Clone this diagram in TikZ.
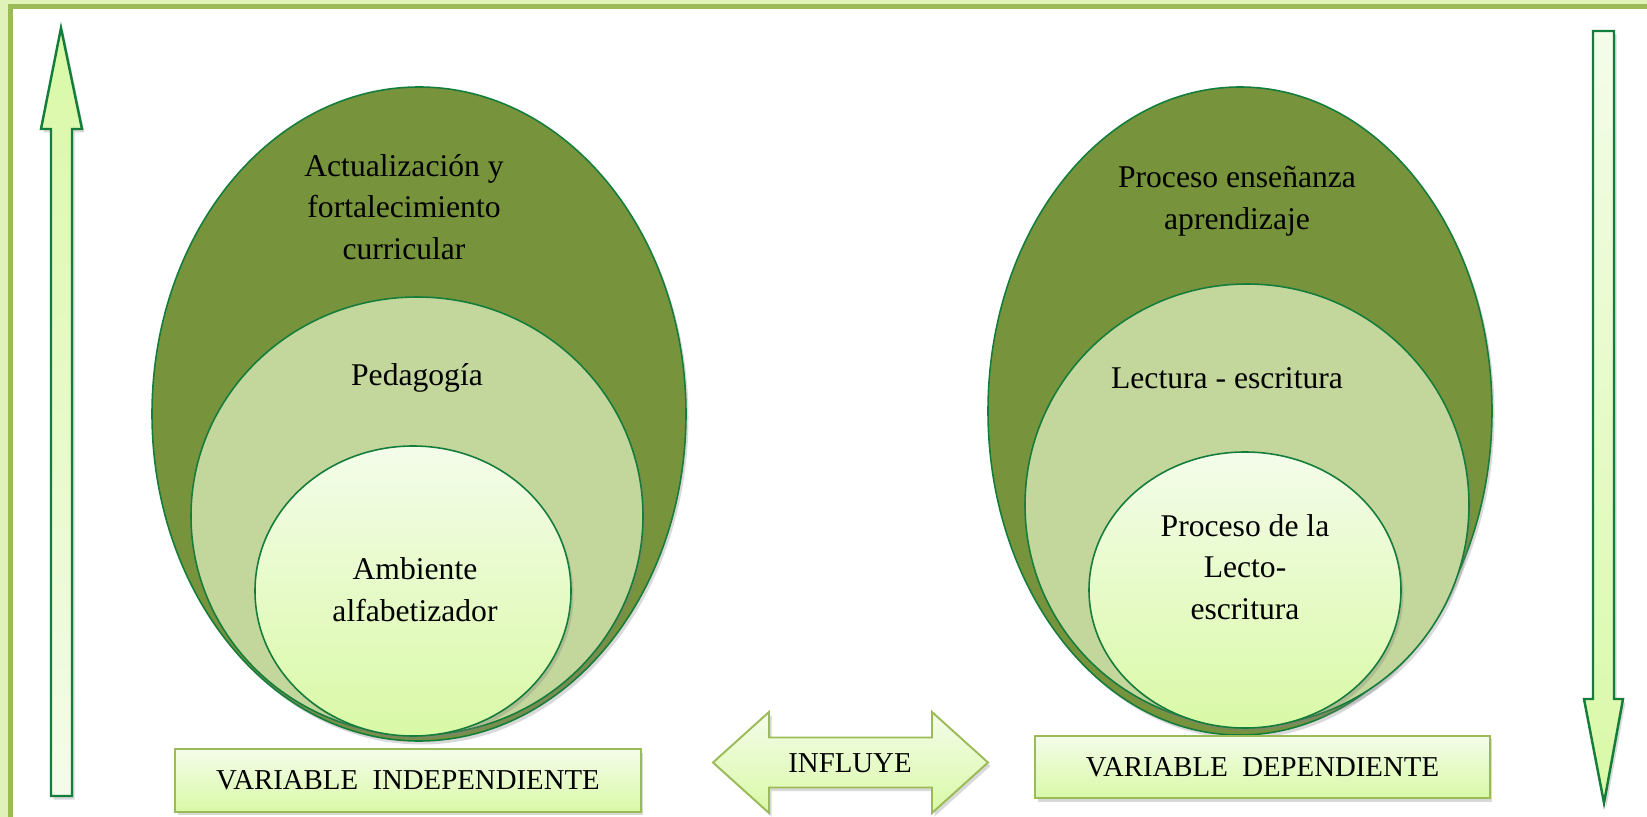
\documentclass[tikz,border=0pt]{standalone}
\usepackage{fontspec}
\setmainfont{Liberation Serif}
\usetikzlibrary{shadows}

\definecolor{olivedark}{RGB}{119,147,60}
\definecolor{olivelight}{RGB}{195,214,155}
\definecolor{palegreen}{RGB}{244,252,234}
\definecolor{limegreen}{RGB}{217,249,166}
\definecolor{rimgreen}{RGB}{20,125,60}
\definecolor{boxrim}{RGB}{155,187,89}
\definecolor{bandgreen}{RGB}{224,242,184}

\tikzset{
    rim/.style={draw=rimgreen, line width=0.9pt},
    softshadow/.style={drop shadow={opacity=.3, shadow xshift=.05cm, shadow yshift=-.07cm}},
    glowfill/.style={top color=palegreen, bottom color=limegreen},
    ovaltext/.style={font={\fontsize{18}{23.8}\selectfont}, align=center, inner sep=0pt},
    varbox/.style={draw=boxrim, line width=1.1pt, glowfill, softshadow, minimum height=1.25cm,
        inner sep=0pt, font={\fontsize{16.4}{20}\selectfont}},
}

\begin{document}
\begin{tikzpicture}[x=0.02cm, y=-0.02cm]
        \useasboundingbox (0,0) rectangle (1647,817);
        % page border
        \fill[bandgreen] (0,0) rectangle (1647,9) (0,0) rectangle (13,817);
        \draw[boxrim, line width=0.1cm] (10.5,817) -- (10.5,6.5) -- (1647,6.5);

        % side arrows
        \draw[rim, line width=1.4pt, top color=limegreen, bottom color=palegreen, softshadow]
            (61,28) -- (82,129) -- (72,129) -- (72,796) -- (51,796) -- (51,129) -- (41,129) -- cycle;
        \draw[rim, line width=1.4pt, glowfill, softshadow]
            (1604,803) -- (1623,699) -- (1614,699) -- (1614,31) -- (1593,31) -- (1593,699) -- (1584,699) -- cycle;

        % independent variable
        \draw[rim, fill=olivedark, softshadow] (419,414) ellipse [x radius=267, y radius=327];
        \draw[rim, fill=olivelight, softshadow] (417,516) ellipse [x radius=226, y radius=219];
        \draw[rim, glowfill, softshadow] (413,591) ellipse [x radius=158, y radius=145];
        \node[ovaltext] (actualiza) at (404,207) {Actualización y\\fortalecimiento\\curricular};
        \node[ovaltext] (pedagogia) at (417,378) {Pedagogía};
        \node[ovaltext] (ambiente) at (415,590) {Ambiente\\alfabetizador};

        % dependent variable
        \draw[rim, fill=olivedark, softshadow] (1240,411) ellipse [x radius=252, y radius=324];
        \draw[rim, fill=olivelight, softshadow] (1247,505) ellipse [x radius=222, y radius=221];
        \draw[rim, glowfill, softshadow] (1245,590) ellipse [x radius=156, y radius=138];
        \node[ovaltext] (ensenanza) at (1237,201) {Proceso enseñanza\\aprendizaje};
        \node[ovaltext] (lectura) at (1227,378) {Lectura - escritura};
        \node[ovaltext] (proceso) at (1245,567) {Proceso de la\\Lecto-\\escritura};

        \node[varbox, minimum width=9.32cm] (indep) at (408,780.5) {VARIABLE\enspace INDEPENDIENTE};
        \node[varbox, minimum width=9.1cm] (dep) at (1262.5,767) {VARIABLE\enspace DEPENDIENTE};

        \draw[draw=boxrim, line width=1.1pt, glowfill, softshadow]
            (713,762.5) -- (769,712) -- (769,737.5) -- (932,737.5) -- (932,712) -- (988,762.5)
            -- (932,813) -- (932,787.5) -- (769,787.5) -- (769,813) -- cycle;
        \node[font={\fontsize{16.4}{20}\selectfont}, inner sep=0pt] (influye) at (850,763) {INFLUYE};
\end{tikzpicture}
\end{document}
